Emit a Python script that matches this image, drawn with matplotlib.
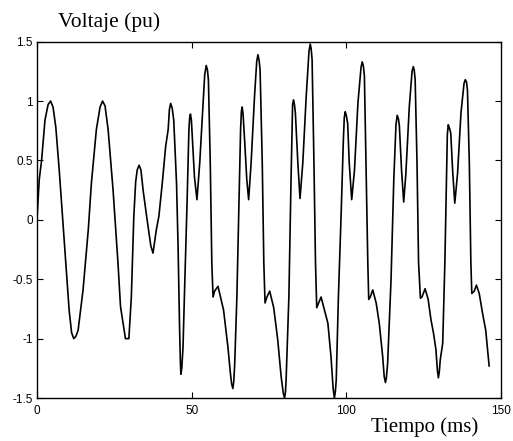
import numpy as np
import matplotlib.pyplot as plt

# tiempo (ms) y voltaje (pu)
tiempo = [0.0, 0.75, 1.5, 2.6, 3.6, 4.4, 5.2, 6.1, 7.2, 8.5,
          9.35, 10.4, 11.2, 11.9, 12.6, 13.3, 14.9, 16.6, 17.6, 19.2,
          20.4, 21.2, 22.0, 23.0, 24.6, 26.2, 27.0, 28.6, 29.7, 30.5,
          31.3, 31.9, 32.4, 33.0, 33.6, 34.3, 35.6, 36.8, 37.5, 38.6,
          39.4, 40.5, 41.6, 42.4, 42.8, 43.2, 43.7, 44.2, 45.1, 45.6,
          46.1, 46.35, 46.5, 46.8, 47.2, 47.7, 48.5, 49.1, 49.35, 49.6,
          49.9, 50.2, 50.9, 51.7, 52.6, 53.7, 54.2, 54.7, 55.1, 55.4,
          56.0, 56.5, 56.9, 57.4, 58.5, 59.3, 60.3, 61.7, 62.5, 62.9,
          63.3, 63.6, 63.9, 64.6, 65.2, 65.8, 66.05, 66.3, 66.6, 67.1,
          67.8, 68.4, 69.2, 70.3, 71.0, 71.4, 71.8, 72.1, 72.8, 73.3,
          73.7, 74.3, 75.2, 76.5, 77.8, 78.9, 79.6, 80.0, 80.3, 80.5,
          81.4, 82.1, 82.6, 82.9, 83.2, 83.5, 84.3, 85.0, 85.9, 87.0,
          87.9, 88.3, 88.6, 88.9, 89.5, 90.0, 90.4, 91.0, 91.8, 92.9,
          94.0, 95.0, 95.7, 96.1, 96.4, 96.7, 97.4, 98.3, 99.0, 99.3,
          99.6, 99.95, 100.4, 100.9, 101.7, 102.6, 103.7, 104.7, 105.1, 105.5,
          105.8, 106.3, 106.9, 107.2, 107.7, 108.5, 109.6, 110.6, 111.7, 112.2,
          112.6, 112.9, 113.3, 114.4, 115.3, 116.0, 116.4, 116.8, 117.1, 117.8,
          118.5, 119.2, 120.3, 121.2, 121.6, 121.9, 122.2, 122.8, 123.3, 123.9,
          124.4, 125.4, 126.4, 127.3, 128.1, 128.9, 129.4, 129.7, 130.0, 130.3,
          131.1, 131.8, 132.3, 132.6, 132.9, 133.3, 133.7, 134.3, 135.0, 135.9,
          137.0, 138.0, 138.4, 138.8, 139.1, 139.7, 140.2, 140.5, 141.3, 142.0,
          142.9, 144.0, 145.0, 146.1]
voltaje = [0.0, 0.34, 0.50, 0.84, 0.97, 1.0, 0.95, 0.78, 0.42, -0.06,
           -0.37, -0.76, -0.95, -1.0, -0.98, -0.93, -0.59, -0.08, 0.31, 0.76,
           0.95, 1.0, 0.96, 0.76, 0.25, -0.37, -0.73, -1.0, -1.0, -0.65,
           0.03, 0.32, 0.42, 0.46, 0.42, 0.25, 0.0, -0.22, -0.28, -0.08,
           0.03, 0.31, 0.62, 0.76, 0.93, 0.98, 0.94, 0.84, 0.31, -0.22,
           -0.93, -1.2, -1.30, -1.25, -1.07, -0.59, 0.14, 0.76, 0.86, 0.89,
           0.84, 0.70, 0.36, 0.17, 0.48, 0.98, 1.22, 1.30, 1.26, 1.18,
           0.48, -0.36, -0.65, -0.60, -0.56, -0.65, -0.76, -1.07, -1.29, -1.38,
           -1.42, -1.36, -1.21, -0.65, 0.06, 0.76, 0.91, 0.95, 0.89, 0.67,
           0.34, 0.17, 0.48, 1.04, 1.33, 1.39, 1.34, 1.26, 0.48, -0.36,
           -0.70, -0.65, -0.60, -0.74, -1.01, -1.32, -1.46, -1.50, -1.45, -1.35,
           -0.65, 0.34, 0.97, 1.01, 0.97, 0.90, 0.48, 0.18, 0.48, 1.04,
           1.42, 1.48, 1.44, 1.35, 0.48, -0.36, -0.74, -0.70, -0.65, -0.76,
           -0.87, -1.15, -1.42, -1.50, -1.45, -1.35, -0.65, 0.06, 0.67, 0.86,
           0.91, 0.88, 0.81, 0.48, 0.17, 0.42, 0.98, 1.28, 1.33, 1.29,
           1.21, 0.48, -0.36, -0.67, -0.65, -0.59, -0.70, -0.87, -1.15, -1.32,
           -1.37, -1.33, -1.21, -0.51, 0.34, 0.80, 0.88, 0.85, 0.79, 0.42,
           0.15, 0.39, 0.95, 1.25, 1.29, 1.26, 1.18, 0.48, -0.36, -0.66,
           -0.65, -0.58, -0.67, -0.84, -0.95, -1.09, -1.27, -1.33, -1.28, -1.18,
           -1.04, -0.36, 0.34, 0.72, 0.80, 0.77, 0.73, 0.42, 0.14, 0.39,
           0.90, 1.15, 1.18, 1.16, 1.09, 0.48, -0.36, -0.62, -0.60, -0.55,
           -0.62, -0.79, -0.93, -1.23]

xticks = [0, 50, 100, 150]
yticks = [-1.5, -1, -0.5, 0, 0.5, 1, 1.5]
ylabels = ['-1.5', '-1', '-0.5', '0', '0.5', '1', '1.5']

plt.rcParams['font.family'] = ['Liberation Sans', 'DejaVu Sans']

fig = plt.figure(figsize=(5.13, 4.41), dpi=100)
ax = fig.add_axes([0.072, 0.0975, 0.905, 0.808])
ax.plot(tiempo, voltaje, color='black', linewidth=1.2)

ax.set_xlim(0, 150)
ax.set_ylim(-1.5, 1.5)
ax.set_xticks(xticks)
ax.set_xticklabels([str(t) for t in xticks])
ax.set_yticks(yticks)
ax.set_yticklabels(ylabels)
ax.tick_params(direction='in', top=True, right=True, length=4, width=0.8,
               labelsize=8.5)
ax.tick_params(axis='x', pad=5)
ax.tick_params(axis='y', pad=3)
for s in ax.spines.values():
    s.set_linewidth(1.0)

fig.text(0.113, 0.95, 'Voltaje (pu)', family='Liberation Serif', fontsize=15.5,
         va='center', ha='left')
fig.text(0.932, 0.032, 'Tiempo (ms)', family='Liberation Serif', fontsize=15,
         va='center', ha='right')

fig.savefig('out.png', dpi=100)
